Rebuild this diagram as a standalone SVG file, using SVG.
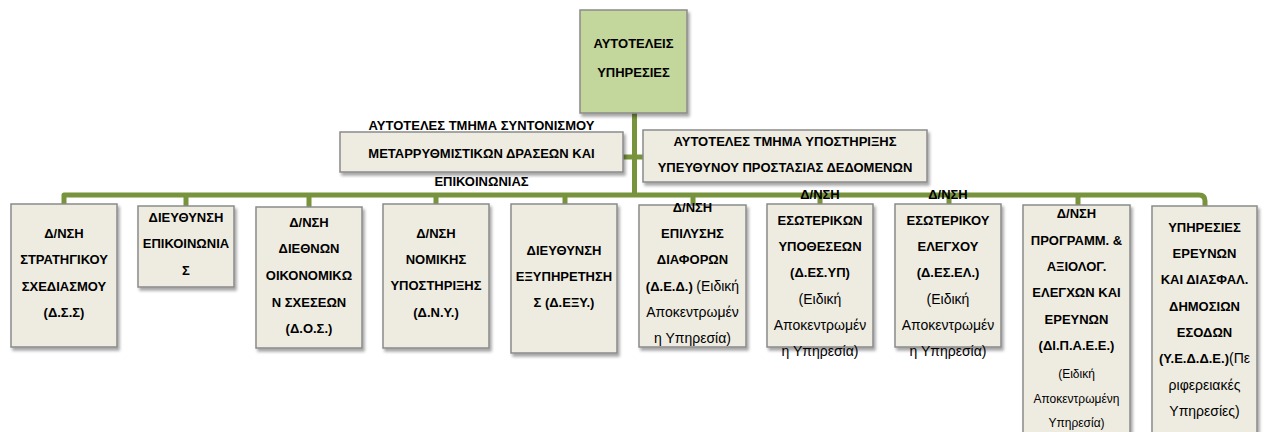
<svg xmlns="http://www.w3.org/2000/svg" width="1267" height="432" viewBox="0 0 1267 432">
<defs>
<filter id="sh" x="-10%" y="-10%" width="125%" height="125%">
<feDropShadow dx="2" dy="3" stdDeviation="1.8" flood-color="#000" flood-opacity="0.35"/>
</filter>
<style>
.box{fill:#eeece1;stroke:#8a8a8a;stroke-width:1.5;filter:url(#sh)}
.top{fill:#c3d69b;stroke:#8a8a8a;stroke-width:1.5;filter:url(#sh)}
.c{fill:none;stroke:#77933c;stroke-width:5;stroke-linejoin:round}
text{font-family:"Liberation Sans",Arial,sans-serif;font-size:13px;font-weight:bold;fill:#000;text-anchor:middle}
.r{font-weight:normal;font-size:14px}
.s{font-weight:normal;font-size:12px}
</style>
</defs>
<rect width="1267" height="432" fill="#fff"/>
<g id="connectors">
<path class="c" d="M634.5 113 V195"/>
<path class="c" d="M623 157 H643"/>
<path class="c" d="M64 204 V195 H1199 Q1205 195 1205 201 V206"/>
<path class="c" d="M186 195 V206 M309 195 V207 M436 195 V204 M565 195 V204 M693 195 V205 M820 195 V204 M949 195 V204 M1078 195 V205"/>
</g>
<g id="n0">
<rect class="top" x="580" y="10" width="107" height="103"/>
<text x="633.5" y="48">ΑΥΤΟΤΕΛΕΙΣ</text>
<text x="633.5" y="77">ΥΠΗΡΕΣΙΕΣ</text>
</g>
<g id="n1">
<rect class="box" x="340" y="132" width="283" height="40"/>
<text x="481.5" y="130">ΑΥΤΟΤΕΛΕΣ ΤΜΗΜΑ ΣΥΝΤΟΝΙΣΜΟΥ</text>
<text x="481.5" y="158">ΜΕΤΑΡΡΥΘΜΙΣΤΙΚΩΝ ΔΡΑΣΕΩΝ ΚΑΙ</text>
<text x="481.5" y="186">ΕΠΙΚΟΙΝΩΝΙΑΣ</text>
</g>
<g id="n2">
<rect class="box" x="643" y="130" width="284" height="52"/>
<text x="785" y="146">ΑΥΤΟΤΕΛΕΣ ΤΜΗΜΑ ΥΠΟΣΤΗΡΙΞΗΣ</text>
<text x="785" y="172">ΥΠΕΥΘΥΝΟΥ ΠΡΟΣΤΑΣΙΑΣ ΔΕΔΟΜΕΝΩΝ</text>
</g>
<g id="b1">
<rect class="box" x="11" y="204" width="106" height="143"/>
<text x="64" y="238">Δ/ΝΣΗ</text>
<text x="64" y="264">ΣΤΡΑΤΗΓΙΚΟΥ</text>
<text x="64" y="291">ΣΧΕΔΙΑΣΜΟΥ</text>
<text x="64" y="317">(Δ.Σ.Σ)</text>
</g>
<g id="b2">
<rect class="box" x="138" y="206" width="96" height="81"/>
<text x="186" y="222">ΔΙΕΥΘΥΝΣΗ</text>
<text x="186" y="248">ΕΠΙΚΟΙΝΩΝΙΑ</text>
<text x="186" y="275">Σ</text>
</g>
<g id="b3">
<rect class="box" x="256" y="207" width="106" height="141"/>
<text x="309" y="227">Δ/ΝΣΗ</text>
<text x="309" y="253">ΔΙΕΘΝΩΝ</text>
<text x="309" y="280">ΟΙΚΟΝΟΜΙΚΩ</text>
<text x="309" y="307">Ν ΣΧΕΣΕΩΝ</text>
<text x="309" y="333">(Δ.Ο.Σ.)</text>
</g>
<g id="b4">
<rect class="box" x="383" y="204" width="106" height="144"/>
<text x="436" y="238">Δ/ΝΣΗ</text>
<text x="436" y="264">ΝΟΜΙΚΗΣ</text>
<text x="436" y="290">ΥΠΟΣΤΗΡΙΞΗΣ</text>
<text x="436" y="317">(Δ.Ν.Υ.)</text>
</g>
<g id="b5">
<rect class="box" x="511" y="204" width="106" height="149"/>
<text x="564" y="255">ΔΙΕΥΘΥΝΣΗ</text>
<text x="564" y="281">ΕΞΥΠΗΡΕΤΗΣΗ</text>
<text x="564" y="307">Σ (Δ.ΕΞΥ.)</text>
</g>
<g id="b6">
<rect class="box" x="639" y="205" width="107" height="142"/>
<text x="692.5" y="212">Δ/ΝΣΗ</text>
<text x="692.5" y="238">ΕΠΙΛΥΣΗΣ</text>
<text x="692.5" y="264">ΔΙΑΦΟΡΩΝ</text>
<text x="692.5" y="291">(Δ.Ε.Δ.) <tspan class="r">(Ειδική</tspan></text>
<text class="r" x="692.5" y="317">Αποκεντρωμέν</text>
<text class="r" x="692.5" y="343">η Υπηρεσία)</text>
</g>
<g id="b7">
<rect class="box" x="767" y="204" width="106" height="143"/>
<text x="820" y="199">Δ/ΝΣΗ</text>
<text x="820" y="225">ΕΣΩΤΕΡΙΚΩΝ</text>
<text x="820" y="251">ΥΠΟΘΕΣΕΩΝ</text>
<text x="820" y="277">(Δ.ΕΣ.ΥΠ)</text>
<text class="r" x="820" y="304">(Ειδική</text>
<text class="r" x="820" y="330">Αποκεντρωμέν</text>
<text class="r" x="820" y="356">η Υπηρεσία)</text>
</g>
<g id="b8">
<rect class="box" x="895" y="204" width="106" height="143"/>
<text x="948" y="199">Δ/ΝΣΗ</text>
<text x="948" y="225">ΕΣΩΤΕΡΙΚΟΥ</text>
<text x="948" y="251">ΕΛΕΓΧΟΥ</text>
<text x="948" y="277">(Δ.ΕΣ.ΕΛ.)</text>
<text class="r" x="948" y="304">(Ειδική</text>
<text class="r" x="948" y="330">Αποκεντρωμέν</text>
<text class="r" x="948" y="356">η Υπηρεσία)</text>
</g>
<g id="b9">
<rect class="box" x="1023" y="205" width="107" height="240"/>
<text x="1076.5" y="218">Δ/ΝΣΗ</text>
<text x="1076.5" y="245">ΠΡΟΓΡΑΜΜ. &amp;</text>
<text x="1076.5" y="271">ΑΞΙΟΛΟΓ.</text>
<text x="1076.5" y="297">ΕΛΕΓΧΩΝ ΚΑΙ</text>
<text x="1076.5" y="324">ΕΡΕΥΝΩΝ</text>
<text x="1076.5" y="350">(ΔΙ.Π.Α.Ε.Ε.)</text>
<text class="s" x="1076.5" y="378">(Ειδική</text>
<text class="s" x="1076.5" y="403">Αποκεντρωμένη</text>
<text class="s" x="1076.5" y="427">Υπηρεσία)</text>
</g>
<g id="b10">
<rect class="box" x="1152" y="206" width="105" height="240"/>
<text x="1204.5" y="232">ΥΠΗΡΕΣΙΕΣ</text>
<text x="1204.5" y="258">ΕΡΕΥΝΩΝ</text>
<text x="1204.5" y="284">ΚΑΙ ΔΙΑΣΦΑΛ.</text>
<text x="1204.5" y="311">ΔΗΜΟΣΙΩΝ</text>
<text x="1204.5" y="337">ΕΣΟΔΩΝ</text>
<text x="1204.5" y="363">(Υ.Ε.Δ.Δ.Ε.)<tspan class="r">(Πε</tspan></text>
<text class="r" x="1204.5" y="390">ριφερειακές</text>
<text class="r" x="1204.5" y="416">Υπηρεσίες)</text>
</g>
</svg>
